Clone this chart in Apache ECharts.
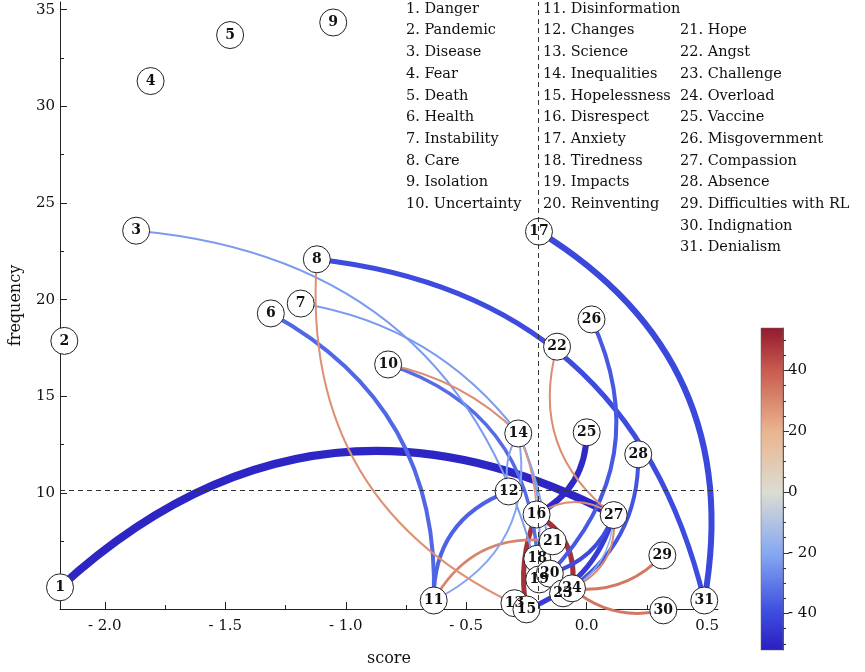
<!DOCTYPE html>
<html lang="en">
<head>
  <meta charset="UTF-8">
  <title>Term network: score vs frequency</title>
  <script src="https://cdn.jsdelivr.net/npm/echarts@6/dist/echarts.min.js"></script>
  <style>
    html, body { margin: 0; padding: 0; background: #fff; }
    #main { width: 865px; height: 672px; }
  </style>
</head>
<body>
  <div id="main"></div>
  <script>
    // node data: term names, sentiment score, frequency
    const terms = ['Danger', 'Pandemic', 'Disease', 'Fear', 'Death', 'Health', 'Instability', 'Care',
      'Isolation', 'Uncertainty', 'Disinformation', 'Changes', 'Science', 'Inequalities',
      'Hopelessness', 'Disrespect', 'Anxiety', 'Tiredness', 'Impacts', 'Reinventing', 'Hope',
      'Angst', 'Challenge', 'Overload', 'Vaccine', 'Misgovernment', 'Compassion', 'Absence',
      'Difficulties with RL', 'Indignation', 'Denialism'];
    const scores = [-2.186, -2.168, -1.870, -1.810, -1.480, -1.311, -1.187, -1.120, -1.052, -0.824,
      -0.635, -0.324, -0.300, -0.284, -0.250, -0.208, -0.198, -0.205, -0.197, -0.153,
      -0.141, -0.123, -0.098, -0.061, 0.000, 0.020, 0.112, 0.214, 0.314, 0.318, 0.488];
    const freqs = [5.12, 17.87, 23.57, 31.31, 33.69, 19.29, 19.80, 22.09, 34.34, 16.65,
      4.44, 10.08, 4.30, 13.08, 3.98, 8.89, 23.52, 6.60, 5.53, 5.83,
      7.50, 17.57, 4.81, 5.07, 13.14, 18.98, 8.86, 12.00, 6.77, 3.93, 4.44];

    // edges (1-based node numbers), edge value (colour), width, bend
    const edgeFrom  = [1, 25, 17, 8, 6, 11, 10, 26, 28, 27, 27, 3, 7, 14, 14, 14, 12, 27, 10, 15, 11, 27, 16, 27, 29, 30, 14, 15, 16];
    const edgeTo    = [27, 16, 31, 31, 11, 12, 18, 20, 23, 15, 20, 19, 14, 11, 18, 20, 14, 23, 14, 8, 21, 22, 27, 24, 24, 24, 16, 16, 24];
    const edgeValue = [-50, -49, -41, -40, -34, -35, -33, -37, -38, -44, -40, -23, -23, -21, -23, -21, -21, -18, 29, 28, 31, 29, 29, 30, 34, 34, 27, 49, 49];
    const edgeWidth = [8, 6, 6, 5, 4, 4, 3.5, 4, 4, 5, 4, 2, 2, 2, 2, 2, 2, 1.5, 2, 2, 2.5, 2, 2, 2, 3, 3, 1.5, 5, 5];
    const edgeBend  = [0.35, 0.3, 0.34, 0.35, 0.31, 0.35, 0.34, 0.34, 0.28, 0.25, 0.25, 0.36, 0.2, 0.37, 0.15, 0.1, 0.2, 0.3, 0.15, 0.35, 0.34, 0.34, 0.33, 0.35, 0.25, 0.25, 0.1, 0.15, 0.34];

    // colour scale
    const cbMin = -52, cbMax = 54;
    const cbMajor = [-40, -20, 0, 20, 40];
    const cbMinor = [-50, -45, -35, -30, -25, -15, -10, -5, 5, 10, 15, 25, 30, 35, 45, 50];
    const cmapStops = [
      [0.00, '#2a1ec0'], [0.12, '#3e4ee0'], [0.30, '#86a8f2'], [0.49, '#dcdcd2'],
      [0.68, '#eab48e'], [0.87, '#c85a4e'], [1.00, '#921a2e']
    ];

    // axis ticks
    const xMajor = [-2.0, -1.5, -1.0, -0.5, 0.0, 0.5];
    const xMinor = [-1.75, -1.25, -0.75, -0.25, 0.25];
    const yMajor = [5, 10, 15, 20, 25, 30, 35];
    const yLabels = [10, 15, 20, 25, 30, 35];
    const yMinor = [7.5, 12.5, 17.5, 22.5, 27.5, 32.5];
    const refScore = -0.205, refFreq = 10.13;

    function hexToRgb(h) {
      return [parseInt(h.slice(1, 3), 16), parseInt(h.slice(3, 5), 16), parseInt(h.slice(5, 7), 16)];
    }
    function cmap(v) {
      const t = Math.max(0, Math.min(1, (v - cbMin) / (cbMax - cbMin)));
      for (let i = 1; i < cmapStops.length; i++) {
        if (t <= cmapStops[i][0]) {
          const a = cmapStops[i - 1], b = cmapStops[i];
          const f = (t - a[0]) / (b[0] - a[0]);
          const ca = hexToRgb(a[1]), cb = hexToRgb(b[1]);
          const c = ca.map((x, k) => Math.round(x + (cb[k] - x) * f));
          return 'rgb(' + c.join(',') + ')';
        }
      }
      return cmapStops[cmapStops.length - 1][1];
    }
    const fmtMinus = (v, d) => (v < 0 ? '- ' + Math.abs(v).toFixed(d) : v.toFixed(d));

    const serif = 'DejaVu Serif';
    const chart = echarts.init(document.getElementById('main'), null, { renderer: 'canvas' });

    const nodes = scores.map((s, i) => [s, freqs[i], String(i + 1)]);
    const edges = edgeFrom.map((f, i) => ({
      coords: [[scores[f - 1], freqs[f - 1]], [scores[edgeTo[i] - 1], freqs[edgeTo[i] - 1]]],
      lineStyle: { color: cmap(edgeValue[i]), width: edgeWidth[i], curveness: edgeBend[i], opacity: 1 }
    })).map((e, i) => ({ e, w: edgeWidth[i] }))
      .sort((a, b) => b.w - a.w).map(o => o.e);

    // legend text, three columns
    const legendCols = [[0, 10, 406, 0], [10, 20, 543, 0], [20, 31, 680, 1]];
    const legendText = [];
    legendCols.forEach(([a, b, x, row0]) => {
      for (let i = a; i < b; i++) {
        legendText.push({
          type: 'text', x: x, y: 9 + (row0 + i - a) * 21.7,
          style: { text: (i + 1) + '. ' + terms[i], font: '14.5px "' + serif + '"', fill: '#111', verticalAlign: 'middle' }
        });
      }
    });

    const gradStops = cmapStops.map(s => ({ offset: s[0], color: s[1] }));
    const labelStyle = { fontFamily: serif, fontSize: 15, color: '#111' };

    const option = {
      animation: false,
      backgroundColor: '#fff',
      graphic: legendText,
      grid: [
        { left: 52, right: 147, top: 2, bottom: 55 },
        { left: 761, top: 328, width: 22, height: 322 }
      ],
      xAxis: [
        {
          type: 'value', gridIndex: 0, min: -2.186, max: 0.545, position: 'bottom',
          name: 'score', nameLocation: 'middle', nameGap: 42,
          nameTextStyle: { fontFamily: serif, fontSize: 16, color: '#111' },
          axisLine: { onZero: false, lineStyle: { color: '#222', width: 1 } },
          axisTick: { inside: true, length: 7, customValues: xMajor, lineStyle: { color: '#222' } },
          axisLabel: Object.assign({ customValues: xMajor, margin: 10, formatter: v => fmtMinus(v, 1) }, labelStyle),
          splitLine: { show: false }
        },
        {
          type: 'value', gridIndex: 0, min: -2.186, max: 0.545, position: 'bottom',
          axisLine: { show: false, onZero: false },
          axisTick: { inside: true, length: 4, customValues: xMinor, lineStyle: { color: '#222' } },
          axisLabel: { show: false }, splitLine: { show: false }
        },
        {
          type: 'value', gridIndex: 1, min: 0, max: 1, show: false
        }
      ],
      yAxis: [
        {
          type: 'value', gridIndex: 0, min: 4, max: 35.4, position: 'left',
          name: 'frequency', nameLocation: 'middle', nameGap: 36, nameRotate: 90,
          nameTextStyle: { fontFamily: serif, fontSize: 16, color: '#111' },
          axisLine: { show: true, onZero: false, lineStyle: { color: '#222', width: 1 } },
          axisTick: { show: true, inside: true, length: 7, customValues: yMajor, lineStyle: { color: '#222' } },
          axisLabel: Object.assign({ customValues: yLabels, margin: 5 }, labelStyle),
          splitLine: { show: false }
        },
        {
          type: 'value', gridIndex: 0, min: 4, max: 35.4, position: 'left',
          axisLine: { show: false, onZero: false },
          axisTick: { show: true, inside: true, length: 4, customValues: yMinor, lineStyle: { color: '#222' } },
          axisLabel: { show: false }, splitLine: { show: false }
        },
        {
          type: 'value', gridIndex: 1, min: cbMin, max: cbMax, position: 'right',
          axisLine: { show: true, onZero: false, lineStyle: { color: '#555', width: 1 } },
          axisTick: { show: true, inside: false, length: 6, customValues: cbMajor, lineStyle: { color: '#333' } },
          axisLabel: Object.assign({ customValues: cbMajor, margin: 5, formatter: v => fmtMinus(v, 0) }, labelStyle),
          splitLine: { show: false }
        },
        {
          type: 'value', gridIndex: 1, min: cbMin, max: cbMax, position: 'right',
          axisLine: { show: false, onZero: false },
          axisTick: { show: true, inside: false, length: 3, customValues: cbMinor, lineStyle: { color: '#333' } },
          axisLabel: { show: false }, splitLine: { show: false }
        }
      ],
      series: [
        {
          type: 'lines', coordinateSystem: 'cartesian2d', xAxisIndex: 0, yAxisIndex: 0,
          clip: false, silent: true, z: 2,
          lineStyle: { opacity: 1 },
          data: edges
        },
        {
          type: 'scatter', xAxisIndex: 0, yAxisIndex: 0, clip: false, z: 3,
          symbol: 'circle', symbolSize: 27,
          itemStyle: { color: '#fff', borderColor: '#222', borderWidth: 1, opacity: 1 },
          label: {
            show: true, position: 'inside', formatter: p => p.value[2],
            fontFamily: serif, fontWeight: 'bold', fontSize: 14, color: '#111'
          },
          data: nodes,
          markLine: {
            silent: true, symbol: 'none', label: { show: false },
            lineStyle: { type: [5, 4], color: '#333', width: 1 },
            data: [{ xAxis: refScore }, { yAxis: refFreq }]
          }
        },
        {
          type: 'line', xAxisIndex: 2, yAxisIndex: 2, data: [], silent: true,
          markArea: {
            silent: true,
            itemStyle: {
              color: new echarts.graphic.LinearGradient(0, 1, 0, 0, gradStops),
              opacity: 1, borderColor: '#666', borderWidth: 0.5
            },
            data: [[{ coord: [0, cbMin] }, { coord: [1, cbMax] }]]
          }
        }
      ]
    };

    chart.setOption(option);
    window.addEventListener('resize', chart.resize);
  </script>
</body>
</html>
